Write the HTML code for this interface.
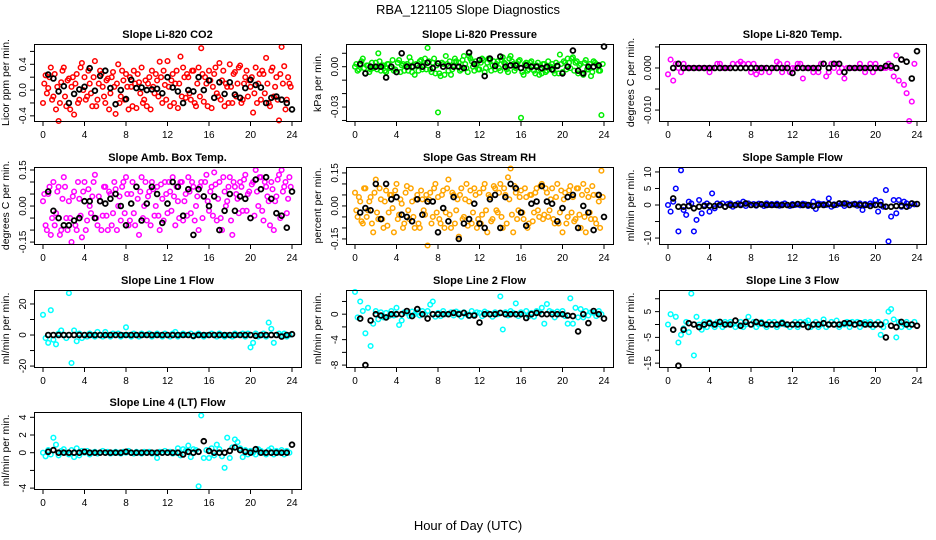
<!DOCTYPE html>
<html><head><meta charset="utf-8"><title>RBA_121105 Slope Diagnostics</title>
<style>html,body{margin:0;padding:0;background:#fff}svg{display:block;font-family:"Liberation Sans",sans-serif}</style>
</head><body>
<svg id="chart" width="936" height="540" viewBox="0 0 936 540" xmlns="http://www.w3.org/2000/svg">
<text x="468" y="14" text-anchor="middle" font-size="13">RBA_121105  Slope Diagnostics</text>
<text x="468" y="530" text-anchor="middle" font-size="13">Hour of Day (UTC)</text>
</svg>
<script>
const colHours = [0,0.25,0.5,0.75,1,1.25,1.5,1.75,2,2.25,2.5,2.75,3,3.25,3.5,3.75,4,4.25,4.5,4.75,5,5.25,5.5,5.75,6,6.25,6.5,6.75,7,7.25,7.5,7.75,8,8.25,8.5,8.75,9,9.25,9.5,9.75,10,10.25,10.5,10.75,11,11.25,11.5,11.75,12,12.25,12.5,12.75,13,13.25,13.5,13.75,14,14.25,14.5,14.75,15,15.25,15.5,15.75,16,16.25,16.5,16.75,17,17.25,17.5,17.75,18,18.25,18.5,18.75,19,19.25,19.5,19.75,20,20.25,20.5,20.75,21,21.25,21.5,21.75,22,22.25,22.5,22.75,23,23.25,23.5,23.75];
const colHours2 = [0.125,0.375,0.625,0.875,1.125,1.375,1.625,1.875,2.125,2.375,2.625,2.875,3.125,3.375,3.625,3.875,4.125,4.375,4.625,4.875,5.125,5.375,5.625,5.875,6.125,6.375,6.625,6.875,7.125,7.375,7.625,7.875,8.125,8.375,8.625,8.875,9.125,9.375,9.625,9.875,10.125,10.375,10.625,10.875,11.125,11.375,11.625,11.875,12.125,12.375,12.625,12.875,13.125,13.375,13.625,13.875,14.125,14.375,14.625,14.875,15.125,15.375,15.625,15.875,16.125,16.375,16.625,16.875,17.125,17.375,17.625,17.875,18.125,18.375,18.625,18.875,19.125,19.375,19.625,19.875,20.125,20.375,20.625,20.875,21.125,21.375,21.625,21.875,22.125,22.375,22.625,22.875,23.125,23.375,23.625,23.875];
const blackHours = [0.5,1,1.5,2,2.5,3,3.5,4,4.5,5,5.5,6,6.5,7,7.5,8,8.5,9,9.5,10,10.5,11,11.5,12,12.5,13,13.5,14,14.5,15,15.5,16,16.5,17,17.5,18,18.5,19,19.5,20,20.5,21,21.5,22,22.5,23,23.5,24];
const xTicks = [0,4,8,12,16,20,24];

const co2Col = [-0.2,0.23,0.03,0.35,-0.1,-0.3,-0.48,0.12,0.35,-0.25,0.18,0.05,-0.38,0.25,-0.15,0.42,0.2,-0.1,0.1,-0.25,0.45,-0.15,0.3,0.05,-0.2,0.18,-0.05,0.28,-0.37,0.4,-0.1,0.15,0.25,-0.3,0.05,0.3,-0.28,0.12,0.35,-0.15,-0.25,0.2,0.3,-0.05,0.15,0.44,-0.2,0.08,0.45,-0.25,0.25,0.1,-0.28,0.52,0.35,-0.12,0.2,-0.15,0.3,-0.25,0.35,0.65,-0.18,0.1,0.3,-0.28,0.25,-0.05,0.42,0.15,-0.25,0.05,0.4,-0.2,0.28,0.1,0.38,-0.15,0.2,-0.1,0.05,-0.35,0.35,0.1,-0.15,0.25,0.5,-0.2,0.3,-0.1,0.2,-0.47,0.67,0.37,-0.15,0.1];
const co2Col2 = [0.1,-0.05,0.2,-0.15,0.25,0.05,-0.2,0.3,-0.1,0.15,-0.3,0.2,0.1,-0.2,0.35,0,-0.15,0.3,-0.05,0.2,-0.25,0.1,0.25,-0.1,0.15,-0.3,0.2,0.05,0.1,-0.2,0.3,-0.15,0.05,0.2,-0.25,0.1,0.25,-0.05,-0.2,0.15,0.1,-0.3,0.05,0.25,-0.1,0.2,0.3,-0.15,0.05,0.15,-0.2,0.3,0.1,-0.1,0.2,0.25,-0.05,0.3,-0.2,0.1,-0.1,0.25,0.2,-0.25,0.15,0.05,0.35,-0.1,-0.15,0.3,0.1,-0.2,0.05,0.25,-0.1,0.35,-0.2,0.1,0.3,0.15,0.2,-0.05,-0.2,0.25,0.3,-0.05,0.1,-0.25,0.35,0.05,-0.15,0.25,0.1,-0.3,0.2,0.05];
const co2Blk = [0.24,0.18,-0.02,0.06,-0.2,-0.06,0.01,0.05,0.34,-0.01,0.22,0.3,0.03,-0.22,0.0,-0.14,0.16,0.03,0.04,0.0,0.01,0.02,-0.05,0.2,0.04,-0.02,-0.2,0.0,-0.02,0.2,0.0,0.15,-0.12,0.12,-0.06,0.12,-0.07,-0.12,0.03,0.16,0.08,0.04,-0.2,-0.12,-0.1,-0.15,-0.2,-0.3];
const presCol = [0.000,-0.003,0.002,0.006,-0.005,0.001,-0.002,-0.001,0.003,0.010,-0.003,0.001,-0.004,0.002,0.000,-0.003,-0.004,0.005,0.001,-0.003,0.002,0.007,-0.004,-0.006,0.001,0.004,-0.002,0.006,0.014,-0.002,0.003,-0.005,-0.034,-0.007,0.002,0.008,-0.003,-0.006,0.001,0.004,0.003,-0.002,0.008,-0.001,0.008,0.004,-0.003,0.002,-0.002,0.006,-0.004,0.003,0.005,0.001,-0.002,0.004,-0.003,0.007,0.002,-0.004,0.008,0.002,-0.001,0.004,-0.038,-0.006,0.003,-0.002,0.004,-0.003,0.001,-0.006,-0.005,0.002,-0.003,0.000,0.002,-0.005,0.001,0.009,-0.004,0.003,0.006,-0.001,0.007,0.003,-0.005,0.002,-0.006,0.005,-0.002,-0.007,0.004,0.002,-0.003,-0.036];
const presCol2 = [0.002,-0.002,0.004,-0.001,0.001,-0.004,0.003,0.0,-0.002,0.004,0.001,-0.003,0.002,-0.001,0.005,-0.002,0.003,-0.004,0.002,0.001,-0.003,0.004,0.0,0.002,-0.003,0.005,0.001,-0.002,0.004,-0.004,0.006,0.001,-0.005,0.003,-0.006,0.002,0.004,-0.002,0.006,0.0,-0.003,0.005,0.002,-0.004,0.006,0.0,0.004,-0.002,0.003,0.005,-0.001,0.006,-0.003,0.004,0.002,-0.001,0.005,0.003,-0.002,0.006,0.004,-0.003,0.002,0.005,-0.004,0.002,-0.003,0.003,0.001,-0.005,0.003,-0.002,0.002,-0.004,0.004,0.0,-0.003,0.003,-0.005,0.002,0.004,-0.002,0.003,0.006,-0.003,0.004,0.001,-0.005,0.003,-0.002,0.002,-0.004,0.003,0.001,-0.003,0.002];
const presBlk = [0.002,-0.005,0,0,0,-0.008,0,-0.004,0.01,0,0,0.001,0,0.003,-0.001,0.0025,0,0.0005,0,0,-0.001,0.0105,0.002,0.005,-0.007,0.006,0.0005,0.0075,0,0.001,0.001,-0.001,0.001,0,0,-0.001,0,-0.002,0.0005,-0.005,0,0.012,-0.003,-0.005,0,0,0.001,0.015];
const tempCol = [-0.0015,0.002,-0.003,0.001,0.0,-0.001,0.001,0.0,0,0,0,0,0,0,0,0,-0.001,0,0,0.001,0.001,0,0,0,0,0.001,0,0.001,0.0015,0.001,0,0.001,-0.001,0.001,-0.0015,0,-0.001,0,0,-0.001,0,0,0.0015,0.001,-0.001,0,0.001,-0.001,0,0,0.001,0.001,-0.0025,0,0,0,-0.001,0,-0.001,0.001,0.001,-0.002,-0.001,0.001,0,0.001,-0.001,0,-0.0025,0,0,0,0,0,0.001,0,-0.001,0,0.001,-0.001,0.001,0,0,0,0,0.001,0,-0.002,0.003,-0.003,0.002,-0.004,-0.006,-0.0126,-0.008,0.001];
const tempBlk = [0,0.001,0,0,0,0,0,0,0,0,0,0,0,0,0,0,0,0,0,0,0,0,0,-0.0012,0,0,0,0,0,0.001,0,0.001,0.001,-0.001,0,0,0,0,0,0,0,0.0005,0.0005,0,0.002,0.0015,-0.0025,0.004];
const ambCol = [0.02,-0.08,0.05,-0.12,0.1,-0.03,0.08,-0.1,0.12,-0.05,0.02,-0.15,0.06,-0.1,0.03,-0.13,0.1,-0.06,0.0,0.04,0.13,-0.08,0.02,-0.04,0.08,-0.1,0.05,-0.03,0.07,0.0,-0.06,0.1,0.12,-0.08,0.05,-0.03,0.08,-0.12,0.12,0.0,-0.06,0.06,0.1,-0.04,0.08,-0.1,0.03,0.1,-0.03,0.06,0.12,-0.08,0.02,0.1,-0.06,0.05,0.12,-0.03,0.08,0.0,-0.1,0.1,0.04,0.13,-0.02,0.08,0.14,-0.06,0.1,-0.1,0.06,0.02,0.12,-0.12,0.08,0.03,0.1,-0.02,0.13,0.05,-0.05,0.1,0.15,0.0,0.12,-0.06,0.08,0.02,0.1,-0.1,0.04,0.13,0.15,0.08,-0.03,0.12];
const ambCol2 = [0.05,-0.1,0.08,-0.05,-0.08,0.06,-0.12,0.03,0.08,-0.1,-0.05,0.04,-0.08,0.1,-0.04,0.06,-0.1,0.07,-0.03,0.1,-0.05,0.04,-0.1,0.08,-0.04,0.06,-0.08,0.1,-0.1,0.04,0.08,-0.03,0.05,-0.06,0.1,-0.08,0.03,0.06,-0.05,0.1,0.04,-0.08,0.07,0.0,-0.04,0.09,-0.06,0.05,0.1,-0.02,0.04,0.08,-0.05,0.1,0.02,-0.04,0.06,0.1,-0.06,0.04,0.08,-0.05,0.1,0.02,0.06,-0.04,0.09,0.03,-0.05,0.12,0.0,0.08,-0.06,0.1,0.05,-0.03,0.08,0.11,-0.02,0.06,0.09,-0.04,0.06,0.12,-0.02,0.1,0.04,-0.08,0.07,0.02,0.11,-0.05,0.06,0.1,0.03,0.08];
const ambBlk = [0.06,-0.02,-0.05,-0.08,-0.08,-0.06,-0.05,0.02,0.02,-0.05,0.02,0.01,0.03,0.05,0.0,-0.08,0.01,0.08,-0.06,0.01,0.08,0.05,-0.07,0.01,0.1,0.08,-0.04,0.07,-0.12,0.07,0.04,0.0,0.04,-0.1,-0.02,0.05,-0.02,0.04,0.03,-0.05,0.11,0.07,0.12,0.03,-0.03,-0.04,-0.09,0.06];
const rhCol = [0.06,-0.05,0.02,-0.08,0.08,-0.02,0.04,-0.12,0.12,-0.06,0.03,-0.1,0.07,-0.03,0.05,-0.12,0.1,-0.04,0.01,-0.08,0.09,-0.06,0.02,-0.1,0.05,-0.1,0.03,-0.04,-0.18,0.06,-0.05,0.1,0.04,-0.08,0.07,-0.03,0.12,-0.1,0.05,-0.02,-0.14,0.08,-0.05,0.1,0.02,-0.08,0.08,-0.1,0.06,-0.04,0.1,-0.12,0.04,-0.06,0.08,-0.03,0.1,-0.1,0.05,0.13,0.17,-0.12,0.06,-0.02,0.07,-0.06,0.04,-0.08,0.05,-0.03,0.08,-0.05,0.1,-0.04,0.06,-0.02,0.08,-0.08,0.1,-0.03,-0.12,0.06,-0.05,0.09,0.04,-0.06,0.08,-0.1,0.1,-0.12,0.04,-0.06,0.05,-0.08,0.02,0.16];
const rhCol2 = [-0.02,0.04,-0.07,0.08,-0.05,0.02,-0.08,0.06,-0.03,0.08,-0.06,0.02,-0.09,0.05,-0.01,0.07,-0.06,0.03,-0.1,0.06,-0.02,0.08,-0.05,0.03,-0.08,0.07,-0.02,0.05,0.03,-0.08,0.08,-0.03,-0.06,0.05,-0.1,0.08,-0.04,0.06,-0.08,0.03,0.05,-0.06,0.03,-0.09,0.07,-0.03,0.05,-0.06,-0.08,0.08,-0.02,0.05,-0.07,0.09,-0.02,0.06,-0.05,0.08,-0.08,0.03,-0.04,0.09,-0.06,0.04,-0.03,0.08,-0.1,0.05,-0.07,0.06,-0.02,0.09,-0.06,0.08,-0.05,0.03,-0.06,0.04,-0.08,0.07,0.03,-0.08,0.07,-0.03,-0.07,0.08,-0.04,0.05,-0.05,0.07,-0.03,0.09,-0.06,0.05,-0.1,0.04];
const rhBlk = [-0.03,-0.01,-0.02,0.1,-0.06,0.1,0.03,0.04,-0.04,-0.05,-0.07,0.03,-0.04,0.02,0.02,-0.12,-0.01,-0.07,0.04,-0.15,-0.08,-0.06,0.01,-0.08,-0.1,0.03,0.05,-0.1,0.04,0.1,0.08,-0.03,-0.09,0.01,0.02,0.09,0.02,0.01,-0.07,-0.01,0.04,0.05,-0.1,0.0,-0.03,-0.11,0.05,-0.05];
const sampCol = [0,-2,1,5,-8,10.5,-1.5,-3,1,0.5,-8,-4.5,1.5,-2.5,0,0.5,-2,3.5,-1,0.5,0,0.5,-0.5,0.3,0.5,-0.5,0,0.5,0.3,1,-0.3,0.5,0,0.3,-0.2,0.4,0.2,-0.3,0.5,0,0.3,0,0.4,-0.2,0.2,0.5,0,-0.3,0.3,0,0.2,-0.1,0.4,0.2,-0.3,0,1,-1.2,0.5,0.2,0.3,0,2,-0.5,0.2,0,0.5,0.3,-0.3,0.5,0,0.2,0.4,-0.2,0.5,-1.5,0.3,0,0.5,0.2,1.5,-2,1,-0.5,4.5,-11,-3.5,1.5,-2.5,1.5,-0.5,1,0.5,-0.3,0.5,0.2];
const sampBlk = [2,-0.5,-0.5,-0.3,-1,-0.5,-0.3,-0.2,-0.3,0,-0.5,0,0,0,0.5,0,0,0.2,0,0,0,0,0,0,0.3,0,0,-0.3,0,0,0.3,0,0.5,0.5,0,0.2,0,0,-0.3,0,0,-0.5,-0.5,-0.3,-0.2,-0.5,0.5,0.3];
const l1Col = [13,-2,-5,16,-3,-6,1,3,0,-2,27,-18,3,-4,1,-2,0,-1,1,0,-1,2,0,-1,2,0,-1,1,0,1,-1,0,5,0,-1,1,0,-1,1,0,0,1,-1,0,1,0,-1,1,0,-1,1,2,-1,0,1,0,0,1,-1,0,1,0,-1,0,0,1,0,-1,1,0,-1,0,0,-1,1,0,0,1,-1,1,-8,-5,1,-1,0,1,-1,8,4,-5,0,1,0,1,-1,0];
const l1Blk = [0,0,0,0,0,0,0,0,0,0,0,0,0,0,0,0,0,0,0,0,0,0,0,0,0,0,0,0,-0.5,0,0,0,0,0,0,0,0,0,0,0,-0.5,0,0,0,0,-1,0,0.5];
const l2Col = [3.5,-0.5,2,0.5,-3,1,-5,-1.5,0.5,-0.8,0.3,-0.5,0.2,-0.3,0.5,-0.2,1,-1.7,-1,0.3,0.2,-0.3,0.4,0,0.3,-0.2,0.5,0,0.5,1.5,2,-0.4,0.2,-0.3,0.5,0,0,0.3,-0.2,0.4,0.2,-0.4,0.3,0,-0.3,0.5,0,0.3,0.2,-0.3,0.4,0.2,0,-0.4,0.3,0,2.8,-2.4,0.3,-0.2,0.5,0.2,1.7,-0.3,0.3,0,0.5,-0.3,0.2,-0.4,0.5,0.3,1,-1.5,1.6,0.5,0.3,-0.5,0.4,0,0.5,-0.3,-1.5,2.5,-1.5,1,-0.5,0.8,-0.5,0.5,-0.2,0.3,0.2,-0.3,0.5,0];
const l2Blk = [-0.7,-8,-1,0,-0.2,-0.5,0,0,0,0.5,-0.3,0.8,0,-0.7,0,0,0,0,0.2,0,0.2,-0.2,-0.2,-1.3,0,0,0,0.2,0,0,0,0,-0.6,0,0.2,0,0,0,0,0,-0.2,-0.3,-2.7,0,-1.4,0.5,0,-0.7];
const l3Col = [0,4,-2,3,-7,-4,-1.5,1,-3,12,-12,3,0,-2,1,-1,1,0,-1,1,0,-1,1,0,1,0,-1,0,1,-1,0,3,0,1,-1,0,1,0,-1,1,0,1,-1,0,1,0,0,-1,0,1,-1,1,0,1,1.5,-1,0,1,-1,0,2,-1,0,1,0,1.5,-1,0,0,1,-1,1,0,1,-1,0.5,1,0,1,-1,0,1,-4,-1,1,5,6,2,-5,1,-1,0,1,-1,0,1];
const l3Blk = [-2,-16,-2,0.5,0,-1,0,0.5,0,1,0,0,1.5,-0.5,1,0,1,0.5,0,0,0,0.5,0,0,0,0,-1,0,0,0.5,0,0,0,0.5,0.5,0,0.5,0,0,0,0,-5,-0.5,-1,1,0,0,-0.5];
const l4Col = [0,-0.4,0.3,-0.2,1.7,0.9,-0.3,0.2,0.4,0,-0.2,0.3,-0.5,0.5,-0.3,0.2,0,0.2,-0.2,0,0.1,-0.1,0,0.2,0,0.1,-0.1,0,0.1,0,-0.1,0.1,0,0.2,0,-0.1,0.1,0,-0.1,0.1,0,0.1,-0.1,0,-0.6,0.1,0,0.2,0,0.1,-0.1,0,0.5,-0.3,0.4,0.2,0.8,-0.5,0.4,0.3,-3.8,4.2,-0.6,0.3,-0.6,0.5,-0.3,0.9,0.4,-0.4,-1.7,1.7,-0.6,0.6,1.5,1.2,0.5,-0.5,0.3,-0.2,0.2,0,-0.2,0.4,0.2,0,-0.2,0.3,0.5,-0.2,0.2,0,0.3,-0.2,0.2,0];
const l4Blk = [0.1,0.3,0,0,0,0,0,0.1,0,0,0,0,0,0,0,0.1,0,0,0,0,0,0,0,0,0,0,-0.2,0.1,0,0.1,1.3,0.2,0,0,0,0.2,0.6,0.3,0.1,0,0.4,0,0,0,0,0,0,0.9];

const co2Ticks=[-0.4,-0.2,0,0.2,0.4,0.6], co2Labels=['-0.4','','0.0','','0.4',''];
const presTicks=[-0.04,-0.03,-0.02,-0.01,0,0.01], presLabels=['','-0.03','','','0.00',''];
const tempTicks=[-0.010,-0.005,0,0.005], tempLabels=['-0.010','','0.000',''];
const ambTicks=[-0.15,-0.1,-0.05,0,0.05,0.1,0.15], ambLabels=['-0.15','','','0.00','','','0.15'];
const rhTicks=[-0.15,-0.1,-0.05,0,0.05,0.1,0.15], rhLabels=['-0.15','','','0.00','','','0.15'];
const sampTicks=[-10,-5,0,5,10], sampLabels=['-10','','0','5','10'];
const l1Ticks=[-20,-10,0,10,20], l1Labels=['-20','','0','','20'];
const l2Ticks=[-8,-6,-4,-2,0,2], l2Labels=['-8','','-4','','0',''];
const l3Ticks=[-15,-10,-5,0,5,10], l3Labels=['-15','','-5','','5',''];
const l4Ticks=[-4,-2,0,2,4], l4Labels=['-4','','0','2','4'];

const NS='http://www.w3.org/2000/svg';
const svg=document.getElementById('chart');
const colLeft=[34,346,659], rowTop=[44,167,290,412], BW=267, BH=77;
const panels=[
 {n:'co2',t:'Slope Li-820 CO2',yl:'Licor ppm per min.',c:'#ff0000',col:co2Col,col2:co2Col2,blk:co2Blk,lim:[-0.48,0.715],tk:co2Ticks,lb:co2Labels},
 {n:'pressure',t:'Slope Li-820 Pressure',yl:'kPa per min.',c:'#00ee00',col:presCol,col2:presCol2,blk:presBlk,lim:[-0.0404,0.0169],tk:presTicks,lb:presLabels},
 {n:'temp',t:'Slope Li-820 Temp.',yl:'degrees C per min.',c:'#ff00ff',col:tempCol,blk:tempBlk,lim:[-0.0126,0.0057],tk:tempTicks,lb:tempLabels},
 {n:'amb-box-temp',t:'Slope Amb. Box Temp.',yl:'degrees C per min.',c:'#ff00ff',col:ambCol,col2:ambCol2,blk:ambBlk,lim:[-0.158,0.1625],tk:ambTicks,lb:ambLabels},
 {n:'gas-stream-rh',t:'Slope Gas Stream RH',yl:'percent per min.',c:'#ffa500',col:rhCol,col2:rhCol2,blk:rhBlk,lim:[-0.173,0.177],tk:rhTicks,lb:rhLabels},
 {n:'sample-flow',t:'Slope Sample Flow',yl:'ml/min per min.',c:'#0000ff',col:sampCol,blk:sampBlk,lim:[-11.8,11.5],tk:sampTicks,lb:sampLabels},
 {n:'line1-flow',t:'Slope Line 1 Flow',yl:'ml/min per min.',c:'#00ffff',col:l1Col,blk:l1Blk,lim:[-20.6,29],tk:l1Ticks,lb:l1Labels},
 {n:'line2-flow',t:'Slope Line 2 Flow',yl:'ml/min per min.',c:'#00ffff',col:l2Col,blk:l2Blk,lim:[-8.3,3.8],tk:l2Ticks,lb:l2Labels},
 {n:'line3-flow',t:'Slope Line 3 Flow',yl:'ml/min per min.',c:'#00ffff',col:l3Col,blk:l3Blk,lim:[-16.5,13.4],tk:l3Ticks,lb:l3Labels},
 {n:'line4-flow',t:'Slope Line 4 (LT) Flow',yl:'ml/min per min.',c:'#00ffff',col:l4Col,blk:l4Blk,lim:[-4.1,4.6],tk:l4Ticks,lb:l4Labels}
];
function mk(tag,attrs,parent){const e=document.createElementNS(NS,tag);for(const k in attrs)e.setAttribute(k,attrs[k]);(parent||svg).appendChild(e);return e;}
panels.forEach((p,i)=>{
 const L=colLeft[i%3], T=rowTop[Math.floor(i/3)];
 const g=mk('g',{});
 
 
 const xs=h=>L+9+(h/24)*(BW-18);
 const ys=v=>T+BH-(v-p.lim[0])/(p.lim[1]-p.lim[0])*BH;
 const tt=mk('text',{x:L+BW/2,y:T-6,'text-anchor':'middle','font-size':'11','font-weight':'bold'},g);
 tt.textContent=p.t;
 
 
 const yl=mk('text',{transform:`translate(${L-25},${T+BH/2}) rotate(-90)`,'text-anchor':'middle','font-size':'10.5'},g);
 yl.textContent=p.yl;
 
 
 const cg=mk('g',{fill:'none',stroke:p.c,'stroke-width':'1.5'},g);
 
 
 const n=Math.min(colHours.length,p.col.length);
 for(let k=0;k<n;k++){
  const c=mk('circle',{cx:xs(colHours[k]).toFixed(1),cy:ys(p.col[k]).toFixed(1),r:'2.3'},cg);
  
  
 }
 if(p.col2){
  const n2=Math.min(colHours2.length,p.col2.length);
  for(let k=0;k<n2;k++){
   const c=mk('circle',{cx:xs(colHours2[k]).toFixed(1),cy:ys(p.col2[k]).toFixed(1),r:'2.3'},cg);
   
   
  }
 }
 const bg=mk('g',{fill:'none',stroke:'#000','stroke-width':'1.8'},g);
 
 
 const m=Math.min(blackHours.length,p.blk.length);
 for(let k=0;k<m;k++){
  const c=mk('circle',{cx:xs(blackHours[k]).toFixed(1),cy:ys(p.blk[k]).toFixed(1),r:'2.4'},bg);
  
  
 }
 const box=mk('rect',{x:L+0.5,y:T+0.5,width:BW,height:BH,fill:'none',stroke:'#000','stroke-width':'1'},g);
 
 
 xTicks.forEach(h=>{
  const x=xs(h);
  mk('line',{x1:x,x2:x,y1:T+BH,y2:T+BH+5,stroke:'#000'},g);
  const tl=mk('text',{x:x,y:T+BH+17,'text-anchor':'middle','font-size':'10'},g);
  tl.textContent=String(h);
  
  
 });
 p.tk.forEach((v,k)=>{
  const y=ys(v);
  mk('line',{x1:L-4,x2:L,y1:y,y2:y,stroke:'#000'},g);
  if(p.lb[k]){
   const tl=mk('text',{transform:`translate(${L-8},${y}) rotate(-90)`,'text-anchor':'middle','font-size':'10'},g);
   tl.textContent=p.lb[k];
   
   
  }
 });
});
</script>
</body></html>
